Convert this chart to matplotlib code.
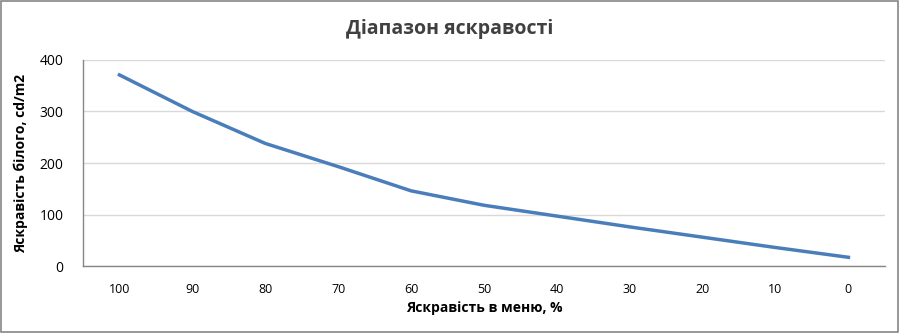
import matplotlib
matplotlib.use("Agg")
import matplotlib.pyplot as plt
from matplotlib.patches import Rectangle

categories = ["100", "90", "80", "70", "60", "50", "40", "30", "20", "10", "0"]
values = [371, 300, 238, 193, 146, 118, 97, 76, 56, 36, 17]
yticks = [0, 100, 200, 300, 400]

plt.rcParams['font.family'] = ['Open Sans', 'DejaVu Sans']

fig = plt.figure(figsize=(9, 3.33), dpi=100)
ax = fig.add_axes([0.0922, 0.201, 0.891, 0.619])

x = list(range(len(categories)))
ax.plot(x, values, color='#4a7ebb', linewidth=2.5, solid_joinstyle='round')
ax.set_xlim(-0.5, len(categories) - 0.5)
ax.set_ylim(0, 400)
ax.set_yticks(yticks)
ax.set_yticklabels([str(v) for v in yticks], fontsize=10)
ax.set_xticks(x)
ax.set_xticklabels(categories, fontsize=9)
ax.tick_params(axis='y', length=0, pad=14)
ax.tick_params(axis='x', length=0, pad=12)
ax.grid(axis='y', color='#d9d9d9', linewidth=1)
ax.set_axisbelow(True)
for s in ['top', 'right']:
    ax.spines[s].set_visible(False)
for s in ['left', 'bottom']:
    ax.spines[s].set_color('#868686')
    ax.spines[s].set_linewidth(1)

ax.set_xlabel("Яскравість в меню, %", fontsize=10, fontweight='bold', labelpad=4)
ax.set_ylabel("Яскравість білого, cd/m2", fontsize=10, fontweight='bold', labelpad=8)
fig.text(0.5, 0.912, "Діапазон яскравості", ha='center', va='center',
         fontsize=14, fontweight='bold', color='#404040')

fig.patches.append(Rectangle((0.001, 0.002), 0.997, 0.995, transform=fig.transFigure,
                             fill=False, edgecolor='#868686', linewidth=1.2))

fig.savefig("out.png", dpi=100)
